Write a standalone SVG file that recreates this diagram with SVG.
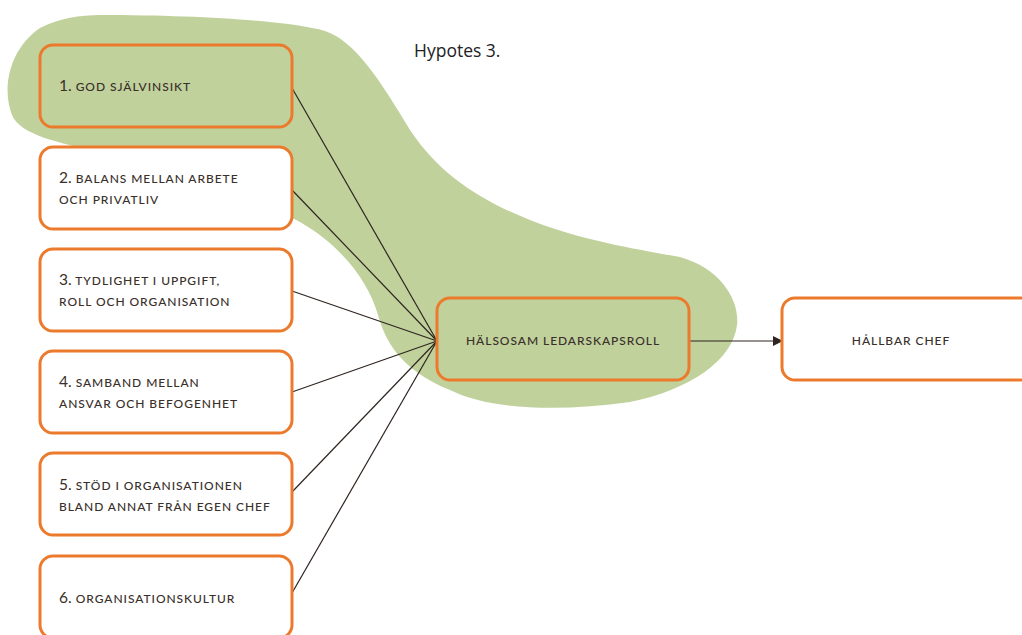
<svg xmlns="http://www.w3.org/2000/svg" width="1022" height="635" viewBox="0 0 1022 635">
<style>
.box{fill:#fff;stroke:#EC7A2C;stroke-width:3}
.gbox{fill:#C0D19C;stroke:#EC7A2C;stroke-width:3}
.t{font-family:Lato,"Open Sans",sans-serif;font-size:12px;font-weight:500;fill:#3a2f2a;letter-spacing:0.95px}
.n{font-size:15.5px;font-weight:400;letter-spacing:0}
.c{stroke:#2e2520;stroke-width:1.2;fill:none}
</style>
<defs>
<marker id="ah" markerWidth="10" markerHeight="10" refX="9" refY="5" orient="auto" markerUnits="userSpaceOnUse">
<path d="M0,0 L10,5 L0,10 Z" fill="#2e2520"/>
</marker>
</defs>
<rect width="1022" height="635" fill="#fff"/>
<path id="blob" fill="#C0D19C" d="M100,15 C200,15 290,21 325,31 C355,41 380,80 410,130 C440,175 480,200 530,220 C580,240 640,250 680,257 C720,268 740,300 737,325 C733,360 690,390 630,402 C560,412 490,410 450,390 C400,370 385,340 378,315 C368,280 340,245 300,222 C240,190 160,165 100,152 C60,143 20,135 12,115 C2,90 8,50 40,28 C60,18 80,15 100,15 Z"/>
<text x="414" y="57" font-family="'Open Sans',Lato,sans-serif" font-size="17.5" fill="#222">Hypotes 3.</text>
<g id="connectors">
<line class="c" x1="292" y1="88" x2="437" y2="341"/>
<line class="c" x1="292" y1="190" x2="437" y2="341"/>
<line class="c" x1="292" y1="291" x2="437" y2="341"/>
<line class="c" x1="292" y1="392" x2="437" y2="341"/>
<line class="c" x1="292" y1="492" x2="437" y2="341"/>
<line class="c" x1="292" y1="593" x2="437" y2="341"/>
<line class="c" x1="689" y1="341" x2="782" y2="341" marker-end="url(#ah)"/>
</g>
<g id="n1"><rect class="gbox" x="40" y="45" width="252" height="82" rx="13"/>
<text class="t" x="59" y="91"><tspan class="n">1.</tspan> GOD SJÄLVINSIKT</text></g>
<g id="n2"><rect class="box" x="40" y="147" width="252" height="82" rx="13"/>
<text class="t" x="59" y="183"><tspan class="n">2.</tspan> BALANS MELLAN ARBETE</text>
<text class="t" x="59" y="204">OCH PRIVATLIV</text></g>
<g id="n3"><rect class="box" x="40" y="249" width="252" height="82" rx="13"/>
<text class="t" x="59" y="285"><tspan class="n">3.</tspan> TYDLIGHET I UPPGIFT,</text>
<text class="t" x="59" y="306">ROLL OCH ORGANISATION</text></g>
<g id="n4"><rect class="box" x="40" y="351" width="252" height="82" rx="13"/>
<text class="t" x="59" y="387"><tspan class="n">4.</tspan> SAMBAND MELLAN</text>
<text class="t" x="59" y="408">ANSVAR OCH BEFOGENHET</text></g>
<g id="n5"><rect class="box" x="40" y="453" width="252" height="82" rx="13"/>
<text class="t" x="59" y="490"><tspan class="n">5.</tspan> STÖD I ORGANISATIONEN</text>
<text class="t" x="59" y="511">BLAND ANNAT FRÅN EGEN CHEF</text></g>
<g id="n6"><rect class="box" x="40" y="556" width="252" height="82" rx="13"/>
<text class="t" x="59" y="603"><tspan class="n">6.</tspan> ORGANISATIONSKULTUR</text></g>
<g id="center"><rect class="gbox" x="437" y="298" width="252" height="82" rx="13"/>
<text class="t" x="563" y="345" text-anchor="middle">HÄLSOSAM LEDARSKAPSROLL</text></g>
<g id="right"><rect class="box" x="782" y="298" width="252" height="82" rx="13"/>
<text class="t" x="901" y="345" text-anchor="middle">HÅLLBAR CHEF</text></g>
</svg>
